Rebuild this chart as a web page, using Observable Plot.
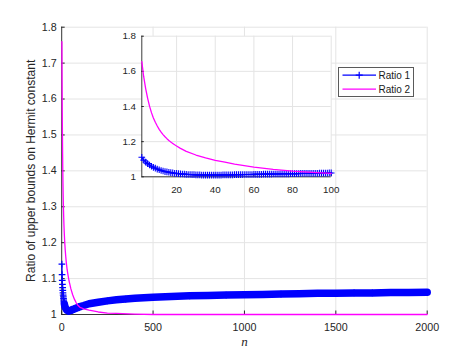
<!DOCTYPE html>
<html><head><meta charset="utf-8">
<script src="https://cdn.jsdelivr.net/npm/d3@7"></script>
<script src="https://cdn.jsdelivr.net/npm/@observablehq/plot@0.6"></script>
<style>
html,body{margin:0;padding:0;background:#fff;}
#chart{position:relative;width:471px;height:353px;font-family:"Liberation Sans",Arial,sans-serif;}
#chart svg{position:absolute;overflow:visible;}
#legend{position:absolute;left:338px;top:66.5px;width:76px;height:30px;box-sizing:border-box;border:1px solid #5a5a5a;background:#fff;}
#legend svg{position:absolute;left:0;top:0;}
</style></head><body><div id="chart"></div>
<script>
// ---- data ----
const seriesNames = ["Ratio 1", "Ratio 2"];
const xLabel = "n";
const yLabel = "Ratio of upper bounds on Hermit constant";

// Ratio 1 : n = 1..100, then coarser samples
const ratio1N = [
  1,2,3,4,5,6,7,8,9,10,11,12,13,14,15,16,17,18,19,20,
  21,22,23,24,25,26,27,28,29,30,31,32,33,34,35,36,37,38,39,40,
  41,42,43,44,45,46,47,48,49,50,51,52,53,54,55,56,57,58,59,60,
  61,62,63,64,65,66,67,68,69,70,71,72,73,74,75,76,77,78,79,80,
  81,82,83,84,85,86,87,88,89,90,91,92,93,94,95,96,97,98,99,100,
  120,150,200,250,300,350,400,500,600,700,800,900,1000,1100,1200,1300,1400,1500,1600,1700,1800,1900,2000];
const ratio1V = [
  1.140,1.111,1.095,1.084,1.075,1.067,1.060,1.054,1.049,1.044,1.040,1.036,1.033,1.030,1.028,1.026,1.024,1.022,1.020,1.019,
  1.018,1.017,1.016,1.015,1.014,1.013,1.013,1.012,1.012,1.011,1.011,1.011,1.010,1.010,1.010,1.010,1.010,1.010,1.010,1.010,
  1.010,1.010,1.010,1.011,1.011,1.011,1.011,1.011,1.011,1.012,1.012,1.012,1.012,1.012,1.013,1.013,1.013,1.013,1.013,1.014,
  1.014,1.014,1.014,1.014,1.015,1.015,1.015,1.015,1.015,1.016,1.016,1.016,1.016,1.017,1.017,1.017,1.017,1.017,1.018,1.018,
  1.018,1.018,1.018,1.019,1.019,1.019,1.019,1.019,1.020,1.020,1.020,1.020,1.020,1.021,1.021,1.021,1.021,1.021,1.022,1.022,
  1.025,1.030,1.034,1.038,1.041,1.043,1.045,1.048,1.050,1.052,1.053,1.054,1.055,1.056,1.057,1.058,1.059,1.059,1.060,1.060,1.061,1.061,1.062];

// Ratio 2
const ratio2N = [1,2,3,4,5,6,7,8,9,10,11,12,13,14,15,16,17,18,19,20,22,25,30,35,40,45,50,60,70,80,90,100,120,150,200,250,300,400,500,700,1000,1500,2000];
const ratio2V = [1.760,1.655,1.568,1.502,1.448,1.402,1.365,1.335,1.310,1.289,1.270,1.254,1.240,1.228,1.217,1.207,1.198,1.190,1.182,1.175,1.162,1.145,1.124,1.108,1.094,1.083,1.072,1.055,1.042,1.032,1.025,1.020,1.016,1.012,1.007,1.004,1.003,1.001,1.000,1.000,1.000,1.000,1.000];

// ticks
const mainXTicks = [0, 500, 1000, 1500, 2000];
const mainYTicks = [1, 1.1, 1.2, 1.3, 1.4, 1.5, 1.6, 1.7, 1.8];
const insetXTicks = [20, 40, 60, 80, 100];
const insetYTicks = [1, 1.2, 1.4, 1.6, 1.8];

// ---- styling ----
const BLUE = "#0000ff", MAGENTA = "#ff00ff", GRID = "#e4e4e4", AXIS = "#262626";
const FONT = "'Liberation Sans', Arial, sans-serif";
const PLUS_R = 2.3; // d3 symbolPlus half-arm ≈ 1.55 r  -> ~7px marker

const r1 = ratio1N.map((n, i) => ({n, v: ratio1V[i]}));
const r2 = ratio2N.map((n, i) => ({n, v: ratio2V[i]}));

const chart = document.getElementById("chart");

// ---- main axes ----
const W = 471, H = 353;
const mL = 61.2, mR = 44.3, mT = 26.7, mB = 39;
const main = Plot.plot({
  width: W, height: H,
  marginLeft: mL, marginRight: mR, marginTop: mT, marginBottom: mB,
  style: {fontSize: "10.7px", fontFamily: FONT, color: AXIS, background: "transparent", overflow: "visible"},
  x: {domain: [0, 2000], ticks: mainXTicks, tickSize: 0, tickPadding: 9, tickFormat: d3.format("d"), label: null},
  y: {domain: [1, 1.8], ticks: mainYTicks, tickSize: 0, tickPadding: 5, tickFormat: d3.format("~g"), label: null},
  marks: [
    Plot.ruleX(mainXTicks, {stroke: GRID}),
    Plot.ruleY(mainYTicks, {stroke: GRID}),
    Plot.tickX(mainXTicks, {x: d => d, stroke: AXIS, insetTop: H - mT - mB - 3.5}),
    Plot.tickY(mainYTicks, {y: d => d, stroke: AXIS, insetRight: W - mL - mR - 3.5}),
    Plot.ruleX([0], {stroke: AXIS, strokeWidth: 0.9}),
    Plot.ruleY([1], {stroke: AXIS, strokeWidth: 0.9}),
    Plot.line(r1.filter(d => d.n >= 15), {x: "n", y: "v", stroke: BLUE, strokeWidth: 7.5, strokeLinejoin: "round"}),
    Plot.line(r1, {x: "n", y: "v", stroke: BLUE, strokeWidth: 1.2}),
    Plot.dot(r1, {x: "n", y: "v", symbol: "plus", r: PLUS_R, stroke: BLUE, strokeWidth: 1.2}),
    Plot.line(r2, {x: "n", y: "v", stroke: MAGENTA, strokeWidth: 1.3}),
    Plot.text([yLabel], {frameAnchor: "left", text: d => d, rotate: -90, dx: -30.5, textAnchor: "middle", lineAnchor: "middle", fontSize: 12, fill: AXIS}),
    Plot.text([xLabel], {frameAnchor: "bottom", text: d => d, dy: 27.5, lineAnchor: "middle", textAnchor: "middle", fontSize: 13, fontStyle: "italic", fontFamily: "'Liberation Serif', 'DejaVu Serif', serif", fill: AXIS})
  ]
});
main.style.left = "0px"; main.style.top = "0px";
chart.appendChild(main);

// ---- inset axes ----
const iW = 250, iH = 185;
const iL = 41.3, iR = 19.3, iT = 15.7, iB = 28.7;
const inset = Plot.plot({
  width: iW, height: iH,
  marginLeft: iL, marginRight: iR, marginTop: iT, marginBottom: iB,
  style: {fontSize: "9.8px", fontFamily: FONT, color: AXIS, background: "transparent", overflow: "visible"},
  x: {domain: [2, 100], ticks: insetXTicks, tickSize: 0, tickPadding: 9.5, tickFormat: d3.format("d"), label: null},
  y: {domain: [1, 1.8], ticks: insetYTicks, tickSize: 0, tickPadding: 5.8, tickFormat: d3.format("~g"), label: null},
  marks: [
    Plot.frame({fill: "white", stroke: null}),
    Plot.ruleX(insetXTicks, {stroke: GRID}),
    Plot.ruleY(insetYTicks, {stroke: GRID}),
    Plot.tickX(insetXTicks, {x: d => d, stroke: AXIS, insetTop: iH - iT - iB - 2.5}),
    Plot.tickY(insetYTicks, {y: d => d, stroke: AXIS, insetRight: iW - iL - iR - 2.5}),
    Plot.ruleX([2], {stroke: AXIS, strokeWidth: 0.9}),
    Plot.ruleY([1], {stroke: AXIS, strokeWidth: 0.9}),
    Plot.line(r1.filter(d => d.n >= 2 && d.n <= 100), {x: "n", y: "v", stroke: BLUE, strokeWidth: 1.2}),
    Plot.dot(r1.filter(d => d.n >= 2 && d.n <= 100), {x: "n", y: "v", symbol: "plus", r: PLUS_R, stroke: BLUE, strokeWidth: 1.1}),
    Plot.line(r2.filter(d => d.n >= 2 && d.n <= 100), {x: "n", y: "v", stroke: MAGENTA, strokeWidth: 1.3})
  ]
});
inset.style.left = "100px"; inset.style.top = "20px";
chart.appendChild(inset);

// ---- legend ----
const legend = document.createElement("div");
legend.id = "legend";
const ns = "http://www.w3.org/2000/svg";
const ls = document.createElementNS(ns, "svg");
ls.setAttribute("width", 74); ls.setAttribute("height", 28);
const colors = [BLUE, MAGENTA];
seriesNames.forEach((name, i) => {
  const y = 7.2 + i * 14;
  const line = document.createElementNS(ns, "line");
  line.setAttribute("x1", 3.5); line.setAttribute("x2", 37); line.setAttribute("y1", y); line.setAttribute("y2", y);
  line.setAttribute("stroke", colors[i]); line.setAttribute("stroke-width", 1.3);
  ls.appendChild(line);
  if (i === 0) {
    const p = document.createElementNS(ns, "path");
    p.setAttribute("d", `M20.2,${y-3.5}V${y+3.5}M16.7,${y}H23.7`);
    p.setAttribute("stroke", colors[i]); p.setAttribute("stroke-width", 1.2);
    ls.appendChild(p);
  }
  const t = document.createElementNS(ns, "text");
  t.setAttribute("x", 39.5); t.setAttribute("y", y + 3.6);
  t.setAttribute("font-size", "10px"); t.setAttribute("font-family", FONT); t.setAttribute("fill", "#1a1a1a");
  t.textContent = name;
  ls.appendChild(t);
});
legend.appendChild(ls);
chart.appendChild(legend);
</script>
</body></html>
